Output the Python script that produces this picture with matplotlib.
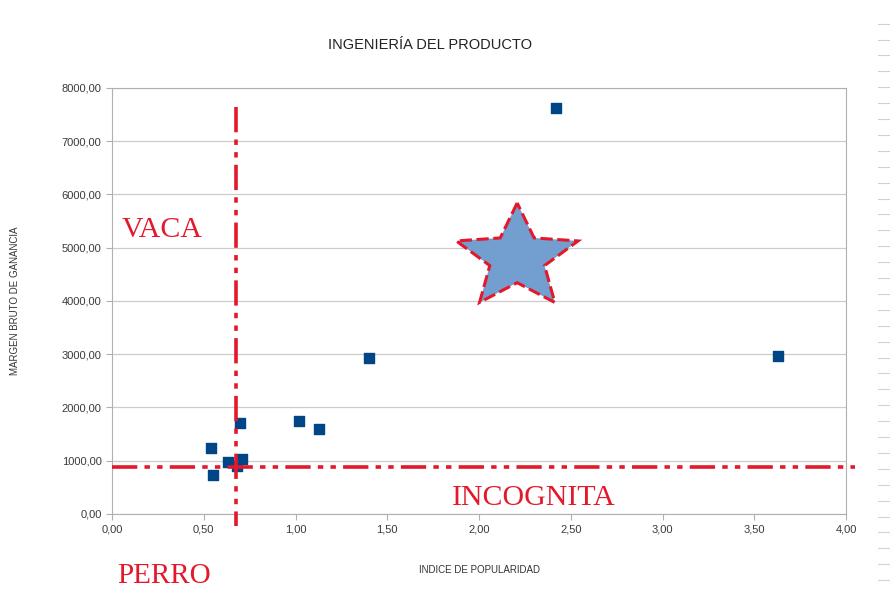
import numpy as np
import matplotlib
matplotlib.use("Agg")
import matplotlib.pyplot as plt
from matplotlib.patches import Polygon
from matplotlib.transforms import ScaledTranslation
from matplotlib.ticker import FuncFormatter
from matplotlib.lines import Line2D

plt.rcParams['font.family'] = ['Liberation Sans', 'DejaVu Sans']

# datos
popularidad = [2.42, 3.63, 1.40, 1.02, 1.13, 0.70, 0.54, 0.55, 0.63, 0.71, 0.68]
margen      = [7620, 2960, 2920, 1740, 1600, 1700, 1240, 730, 980, 1030, 900]
corte_x = 0.675   # promedio popularidad
corte_y = 890     # promedio margen

RED = '#e3192b'; NAVY = '#004586'; GRID = '#cccccc'

fig = plt.figure(figsize=(8.91, 5.92), dpi=100, facecolor='white')
ax = fig.add_axes([0.1257, 0.1318, 0.8238, 0.7196])

ax.set_xlim(0, 4)
ax.set_ylim(0, 8000)
ax.set_xticks(np.arange(0, 4.01, 0.5))
ax.set_yticks(np.arange(0, 8001, 1000))
coma = lambda fmt: FuncFormatter(lambda v, p: (fmt % v).replace('.', ','))
ax.xaxis.set_major_formatter(coma('%.2f'))
ax.yaxis.set_major_formatter(coma('%.2f'))
ax.tick_params(labelsize=8, colors='#3a3a3a', length=4, width=0.8, color='#b0b0b0')
ax.grid(axis='y', color=GRID, lw=0.9)
ax.set_axisbelow(True)
for sp in ax.spines.values():
    sp.set_edgecolor('#b0b0b0')

ax.scatter(popularidad, margen, marker='s', s=55, color=NAVY, zorder=3)

dash = (0, (7, 2, 1.5, 2, 1.5, 2))
ax.plot([corte_x, corte_x], [7640, -220], color=RED, lw=2.6, ls=dash,
        clip_on=False, zorder=4)
ax.plot([0, 4.05], [corte_y, corte_y], color=RED, lw=2.6, ls=dash,
        clip_on=False, zorder=4)

# estrella
ang = np.pi / 2 + np.arange(10) * np.pi / 5
rad = np.where(np.arange(10) % 2 == 0, 1.0, 0.45)
verts = np.column_stack([0.64 * rad * np.cos(ang), 0.55 * rad * np.sin(ang)])
tr = fig.dpi_scale_trans + ScaledTranslation(0.552, 0.601, ax.transAxes)
ax.add_patch(Polygon(verts, closed=True, transform=tr, facecolor='#729fcf',
                     edgecolor=RED, lw=2.2, ls=(0, (4, 1.5)), zorder=5))

serif = 'Liberation Serif'
fig.text(0.137, 0.600, 'VACA', color=RED, fontsize=21.5, family=serif, va='baseline')
fig.text(0.507, 0.147, 'INCOGNITA', color=RED, fontsize=21.5, family=serif, va='baseline')
fig.text(0.131, 0.016, 'PERRO', color=RED, fontsize=21, family=serif, va='baseline')

fig.suptitle('INGENIERÍA DEL PRODUCTO', x=0.483, y=0.935, fontsize=10.5, color='#222222')
ax.set_xlabel('INDICE DE POPULARIDAD', fontsize=7, color='#333333', labelpad=22)
ax.set_ylabel('MARGEN BRUTO DE GANANCIA', fontsize=7, color='#333333', labelpad=30)

# marcas grises del borde derecho
for yy in np.linspace(0.96, 0.02, 36):
    fig.add_artist(Line2D([0.985, 0.998], [yy, yy], color='#d2d2d2', lw=0.8))

fig.savefig('out.png', dpi=100)
